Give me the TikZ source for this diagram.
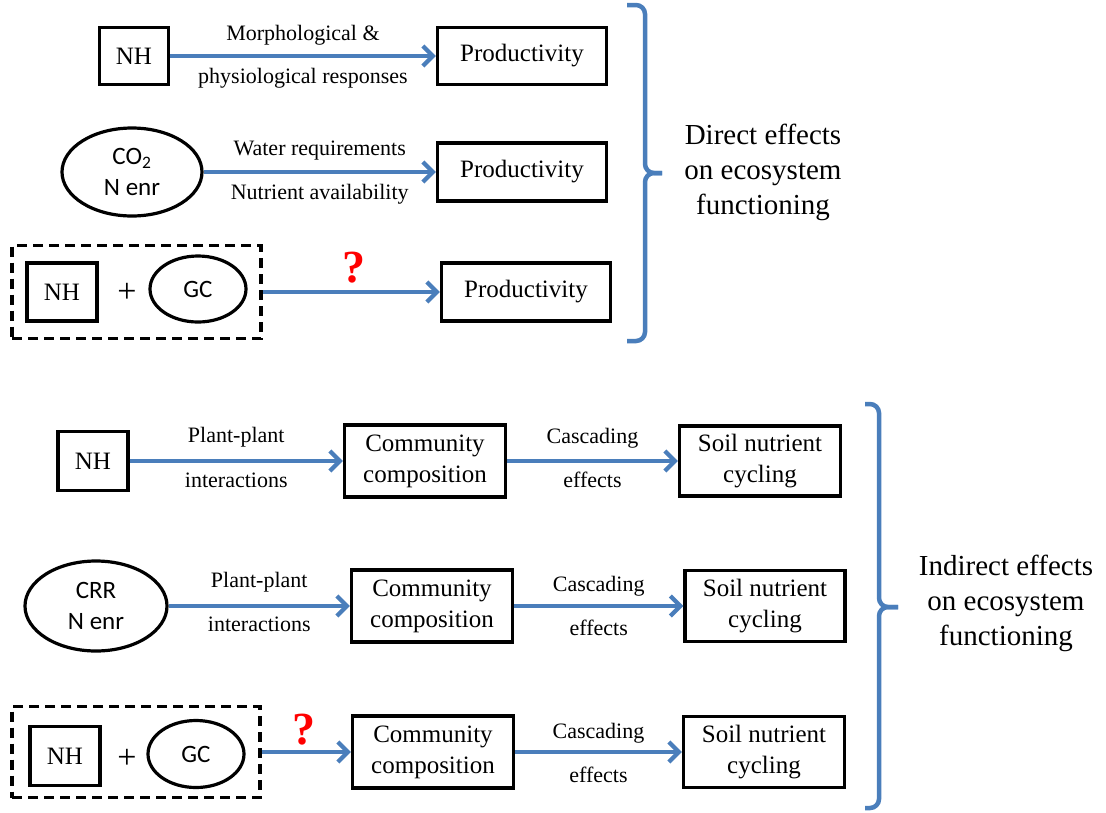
\documentclass[tikz,border=0pt]{standalone}
\usepackage{fontspec}
\setmainfont{Liberation Serif}
\newfontfamily\calibri{Carlito}
\usepackage{xcolor}
\usepackage{tikz}
\usetikzlibrary{arrows.meta,shapes.geometric}
\definecolor{effblue}{RGB}{74,126,187}

\begin{document}
\begin{tikzpicture}[x=1pt,y=-1pt,
  box/.style={rectangle,draw,line width=3.2pt,inner sep=0pt,align=center,font=\fontsize{25}{31}\selectfont},
  oval/.style={ellipse,draw,line width=3.2pt,inner sep=0pt,align=center,font=\calibri\fontsize{25}{31}\selectfont},
  dashbox/.style={rectangle,draw,line width=3.2pt,dash pattern=on 10pt off 6pt,inner sep=0pt},
  arr/.style={draw=effblue,line width=4.3pt,-{Straight Barb[length=10pt,width=20pt]}},
  lab/.style={font=\fontsize{22}{26}\selectfont,inner sep=0pt},
  plus/.style={font=\fontsize{34}{34}\selectfont,inner sep=0pt},
  ques/.style={text=red,inner sep=0pt,font=\bfseries\fontsize{46}{46}\selectfont},
  brace/.style={draw=effblue,line width=4.5pt,rounded corners=9pt},
  sidetext/.style={align=center,font=\fontsize{29}{35}\selectfont}]

\useasboundingbox (0,0) rectangle (1106,812);

\node (N1)[box,minimum width=69pt,minimum height=57pt] at (134,56) {NH};
\node (P1)[box,minimum width=169pt,minimum height=57pt] at (522,56) {Productivity};
\draw[arr] (N1) -- node[lab,yshift=21pt]{Morphological \&} node[lab,yshift=-22pt]{physiological responses} (P1);

\node (E1)[oval,minimum width=140pt,minimum height=88pt] at (132,172) {CO\textsubscript{2}\\N enr};
\node (P2)[box,minimum width=169pt,minimum height=58pt] at (522,172) {Productivity};
\draw[arr] (E1) -- node[lab,yshift=21pt]{Water requirements} node[lab,yshift=-22pt]{Nutrient availability} (P2);

\node (D1)[dashbox,minimum width=249pt,minimum height=93pt] at (136.5,292) {};
\node (N2)[box,minimum width=70pt,minimum height=58pt] at (62,292) {NH};
\node (A1)[plus] at (127,293) {+};
\node (G1)[oval,minimum width=96pt,minimum height=66pt] at (198,289) {GC};
\node (P3)[box,minimum width=169pt,minimum height=58pt] at (526,292) {Productivity};
\draw[arr] (D1) -- (P3);
\node (Q1)[ques] at (354,268) {?};

\draw[brace] (627,5) -| (645,173) -- (662,173);
\draw[brace] (627,341) -| (645,173) -- (662,173);
\node (T1)[sidetext] at (763,172) {Direct effects\\on ecosystem\\functioning};


\node (N3)[box,minimum width=70pt,minimum height=59pt] at (93,461) {NH};
\node (C1)[box,minimum width=161pt,minimum height=72pt] at (425,461) {Community\\composition};
\node (S1)[box,minimum width=161pt,minimum height=70pt] at (760,461) {Soil nutrient\\cycling};
\draw[arr] (N3) -- node[lab,yshift=24pt]{Plant-plant} node[lab,yshift=-19pt]{interactions} (C1);
\draw[arr] (C1) -- node[lab,yshift=23pt]{Cascading} node[lab,yshift=-19pt]{effects} (S1);

\node (E2)[oval,minimum width=142pt,minimum height=90pt] at (96,606) {CRR\\N enr};
\node (C2)[box,minimum width=161pt,minimum height=72pt] at (432,606) {Community\\composition};
\node (S2)[box,minimum width=160pt,minimum height=71pt] at (765,606) {Soil nutrient\\cycling};
\draw[arr] (E2) -- node[lab,yshift=24pt]{Plant-plant} node[lab,yshift=-18pt]{interactions} (C2);
\draw[arr] (C2) -- node[lab,yshift=20pt]{Cascading} node[lab,yshift=-22pt]{effects} (S2);

\node (D2)[dashbox,minimum width=248pt,minimum height=91pt] at (136,752) {};
\node (N4)[box,minimum width=70pt,minimum height=59pt] at (65,756) {NH};
\node (A2)[plus] at (127,759) {+};
\node (G2)[oval,minimum width=96pt,minimum height=67pt] at (196,754) {GC};
\node (C3)[box,minimum width=161pt,minimum height=72pt] at (433,752) {Community\\composition};
\node (S3)[box,minimum width=161pt,minimum height=71pt] at (764,752) {Soil nutrient\\cycling};
\draw[arr] (D2) -- (C3);
\draw[arr] (C3) -- node[lab,yshift=19pt]{Cascading} node[lab,yshift=-23pt]{effects} (S3);
\node (Q2)[ques] at (304,730) {?};

\draw[brace] (865,404) -| (879,607) -- (898,607);
\draw[brace] (865,808) -| (879,607) -- (898,607);
\node (T2)[sidetext] at (1006,603) {Indirect effects\\on ecosystem\\functioning};
\end{tikzpicture}
\end{document}
